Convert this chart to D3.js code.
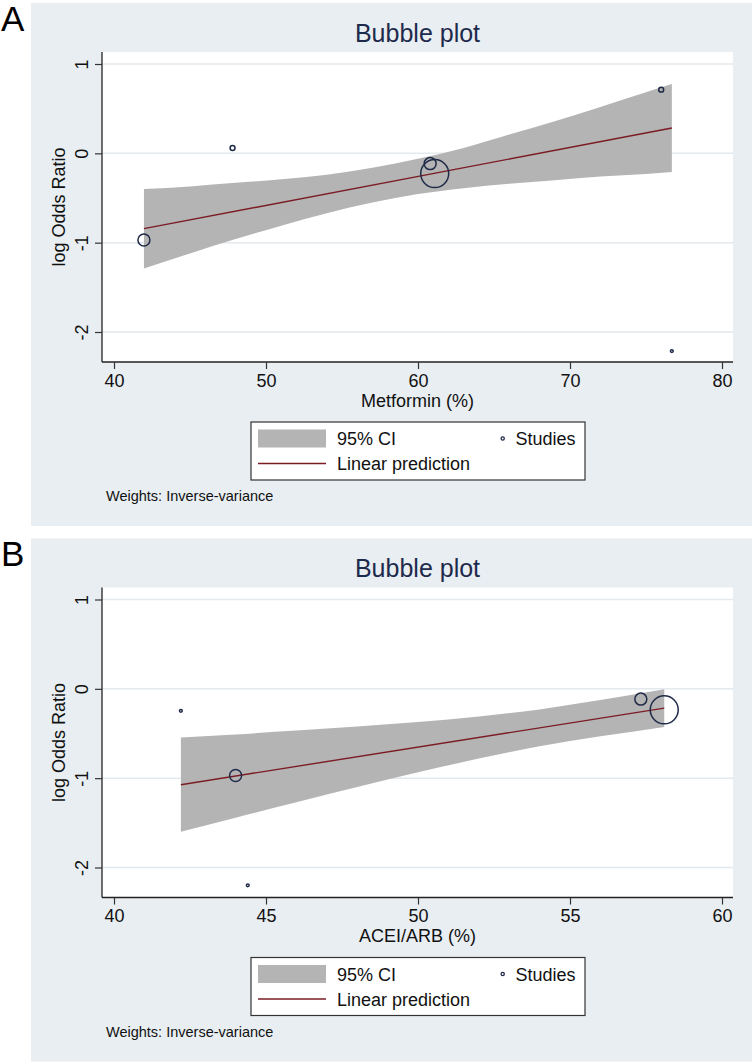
<!DOCTYPE html>
<html>
<head>
<meta charset="utf-8">
<script src="https://cdn.jsdelivr.net/npm/d3@7"></script>
<style>
  body { margin: 0; background: #ffffff; }
  svg { display: block; font-family: "Liberation Sans", Arial, sans-serif; }
</style>
</head>
<body>
<svg id="chart" width="754" height="1064"></svg>
<script>
// Panel A: Metformin
var metX = [41.97, 47.8, 60.8, 61.1, 76.0, 76.7];
var metY = [-0.97, 0.06, -0.115, -0.227, 0.713, -2.214];
var metW = [36, 6, 36, 196, 6, 2];
var metPredX = [41.97, 76.7];
var metPredY = [-0.843, 0.283];
var metBandX = [41.97, 45, 48, 51, 54, 57, 60, 63, 66, 69, 72, 75, 76.7];
var metBandHi = [-0.40, -0.37, -0.33, -0.29, -0.24, -0.16, -0.06, 0.06, 0.21, 0.36, 0.52, 0.685, 0.775];
var metBandLo = [-1.29, -1.12, -0.96, -0.81, -0.67, -0.55, -0.455, -0.39, -0.34, -0.30, -0.26, -0.23, -0.21];
var metTicks = [40, 50, 60, 70, 80];

// Panel B: ACEI/ARB
var aceX = [42.2, 44.0, 44.4, 57.33, 58.1];
var aceY = [-0.246, -0.97, -2.2, -0.115, -0.235];
var aceW = [2, 36, 2, 36, 196];
var acePredX = [42.2, 58.1];
var acePredY = [-1.073, -0.216];
var aceBandX = [42.2, 44, 46, 48, 50, 52, 54, 56, 58.1];
var aceBandHi = [-0.545, -0.51, -0.467, -0.422, -0.371, -0.309, -0.23, -0.126, -0.006];
var aceBandLo = [-1.60, -1.442, -1.269, -1.098, -0.935, -0.781, -0.644, -0.532, -0.426];
var aceTicks = [40, 45, 50, 55, 60];

var yTicks = [-2, -1, 0, 1];
var legendLabels = ['95% CI', 'Linear prediction', 'Studies'];

var bgCol = '#e8eef1';
var gridCol = '#e3e9ed';
var bandCol = '#b4b4b4';
var lineCol = '#7b1c24';
var dotCol = '#1f2a48';
var titleCol = '#1e2a4c';

var svg = d3.select('#chart');

function drawPanel(off, letter, xs, ys, ws, px, py, bx, bhi, blo, xticks, xlab) {
  var g = svg.append('g').attr('transform', 'translate(0,' + off + ')');
  var left = 102, right = 733, top = 52, bottom = 362;

  g.append('rect').attr('x', 31).attr('y', 3).attr('width', 721).attr('height', 523)
    .attr('fill', bgCol);
  g.append('rect').attr('x', left).attr('y', top).attr('width', right - left).attr('height', bottom - top)
    .attr('fill', '#ffffff');

  g.append('text').attr('x', 1).attr('y', 30.5)
    .attr('font-size', '35px').attr('fill', '#000').text(letter);

  g.append('text').attr('x', (left + right) / 2).attr('y', 41.5)
    .attr('text-anchor', 'middle').attr('font-size', '25px').attr('fill', titleCol)
    .text('Bubble plot');

  var x = d3.scaleLinear().domain([xticks[0], xticks[xticks.length - 1]]).range([114, 722]);
  var y = d3.scaleLinear().domain([-2, 1]).range([332, 64]);
  var r = d3.scaleSqrt().domain([0, 196]).range([0, 14]);

  // grid
  g.selectAll('.grid').data(yTicks).enter().append('line')
    .attr('x1', left).attr('x2', right)
    .attr('y1', d => y(d)).attr('y2', d => y(d))
    .attr('stroke', gridCol).attr('stroke-width', 1.5);

  // CI band
  var band = bx.map(function(v, i) { return [v, bhi[i], blo[i]]; });
  g.append('path').datum(band)
    .attr('d', d3.area().x(d => x(d[0])).y0(d => y(d[2])).y1(d => y(d[1])).curve(d3.curveMonotoneX))
    .attr('fill', bandCol);

  // prediction line
  var pred = px.map(function(v, i) { return [v, py[i]]; });
  g.append('path').datum(pred)
    .attr('d', d3.line().x(d => x(d[0])).y(d => y(d[1])))
    .attr('fill', 'none').attr('stroke', lineCol).attr('stroke-width', 1.4);

  // studies
  g.selectAll('.dot').data(xs).enter().append('circle')
    .attr('cx', d => x(d))
    .attr('cy', (d, i) => y(ys[i]))
    .attr('r', (d, i) => r(ws[i]))
    .attr('fill', 'none').attr('stroke', dotCol).attr('stroke-width', 1.5);

  // axes
  var yAxis = d3.axisLeft(y).tickValues(yTicks).tickSize(7).tickFormat(d => String(d));
  var ya = g.append('g').attr('transform', 'translate(' + left + ',0)').call(yAxis);
  ya.select('.domain').attr('d', 'M0,' + top + 'V' + bottom).attr('stroke', '#222').attr('stroke-width', 1.3);
  ya.selectAll('.tick line').attr('stroke', '#333').attr('stroke-width', 1.2);
  ya.selectAll('.tick text')
    .attr('transform', 'rotate(-90)')
    .attr('x', 0).attr('y', -14.5).attr('dy', 0)
    .attr('text-anchor', 'middle')
    .attr('font-size', '18px').attr('fill', '#111')
    .attr('font-family', '"Liberation Sans", Arial, sans-serif');

  var xAxis = d3.axisBottom(x).tickValues(xticks).tickSize(7).tickFormat(d => String(d));
  var xa = g.append('g').attr('transform', 'translate(0,' + bottom + ')').call(xAxis);
  xa.select('.domain').attr('d', 'M' + left + ',0H' + right).attr('stroke', '#222').attr('stroke-width', 1.3);
  xa.selectAll('.tick line').attr('stroke', '#333').attr('stroke-width', 1.2);
  xa.selectAll('.tick text')
    .attr('y', 24.5).attr('dy', 0)
    .attr('font-size', '18px').attr('fill', '#111')
    .attr('font-family', '"Liberation Sans", Arial, sans-serif');

  // axis titles
  g.append('text').attr('transform', 'translate(65,' + (top + bottom) / 2 + ') rotate(-90)')
    .attr('text-anchor', 'middle').attr('font-size', '18px').attr('fill', '#111')
    .text('log Odds Ratio');
  g.append('text').attr('x', (left + right) / 2).attr('y', 406.5)
    .attr('text-anchor', 'middle').attr('font-size', '18px').attr('fill', '#111')
    .text(xlab);

  // legend
  g.append('rect').attr('x', 251).attr('y', 422).attr('width', 334).attr('height', 58)
    .attr('fill', '#fff').attr('stroke', '#333').attr('stroke-width', 1.2);
  g.append('rect').attr('x', 258).attr('y', 429.5).attr('width', 68).attr('height', 18)
    .attr('fill', bandCol);
  g.append('line').attr('x1', 258).attr('x2', 326).attr('y1', 463.5).attr('y2', 463.5)
    .attr('stroke', lineCol).attr('stroke-width', 1.4);
  g.append('circle').attr('cx', 502.7).attr('cy', 438.5).attr('r', 1.6)
    .attr('fill', 'none').attr('stroke', dotCol).attr('stroke-width', 1.3);
  g.append('text').attr('x', 337).attr('y', 445).attr('font-size', '18px').attr('fill', '#111').text(legendLabels[0]);
  g.append('text').attr('x', 337).attr('y', 470).attr('font-size', '18px').attr('fill', '#111').text(legendLabels[1]);
  g.append('text').attr('x', 515.5).attr('y', 445).attr('font-size', '18px').attr('fill', '#111').text(legendLabels[2]);

  g.append('text').attr('x', 106).attr('y', 501).attr('font-size', '14.5px').attr('fill', '#111')
    .text('Weights: Inverse-variance');
}

drawPanel(0, 'A', metX, metY, metW, metPredX, metPredY, metBandX, metBandHi, metBandLo, metTicks, 'Metformin (%)');
drawPanel(535.5, 'B', aceX, aceY, aceW, acePredX, acePredY, aceBandX, aceBandHi, aceBandLo, aceTicks, 'ACEI/ARB (%)');
</script>
</body>
</html>
